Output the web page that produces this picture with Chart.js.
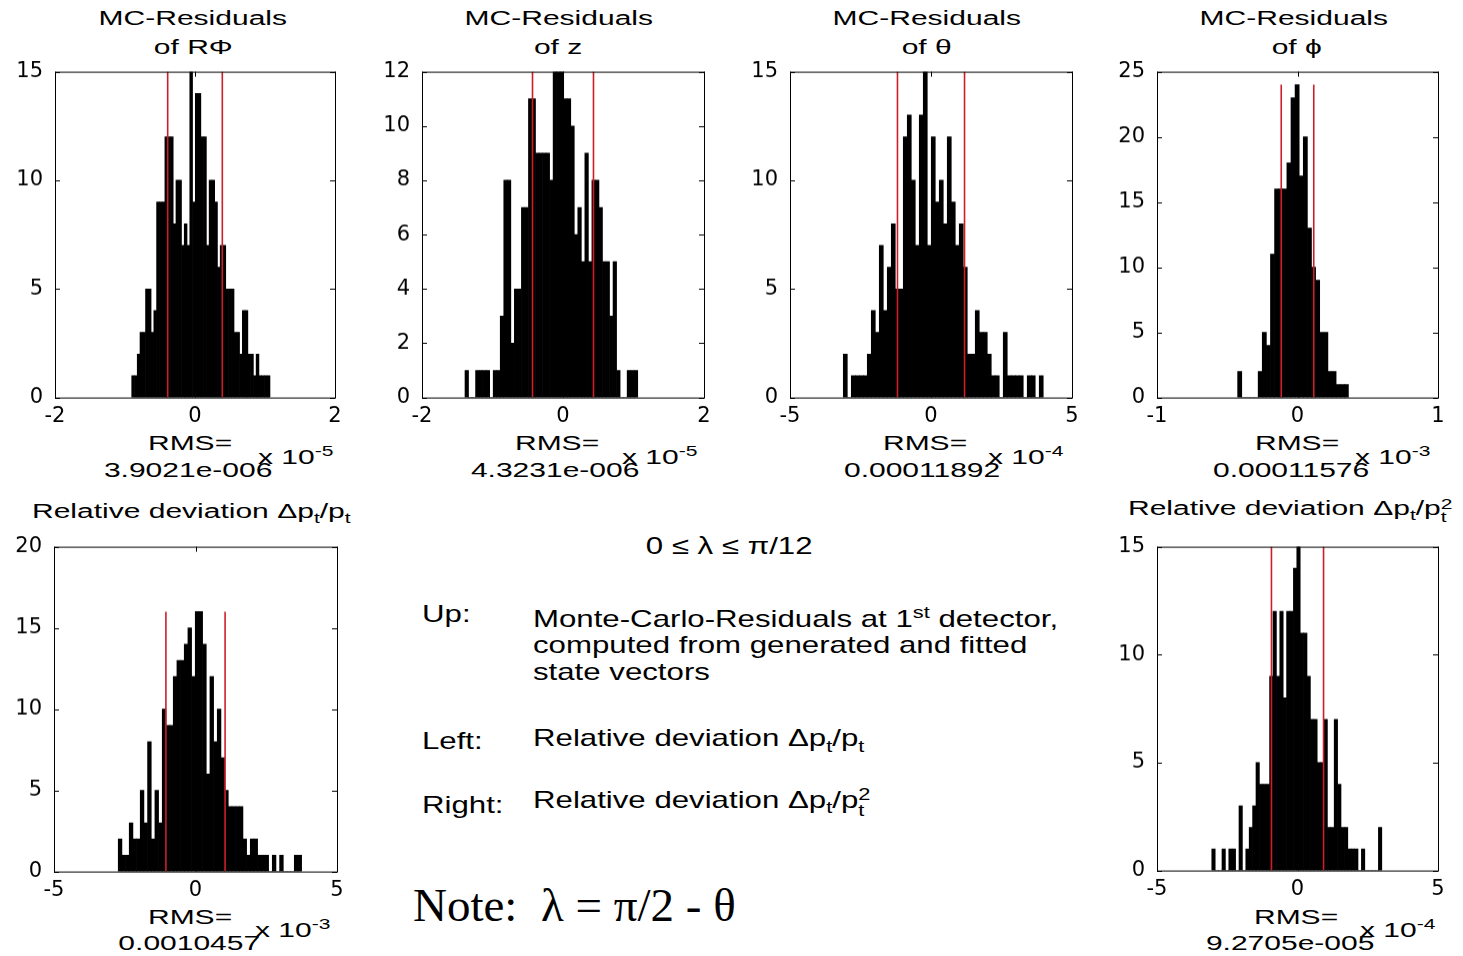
<!DOCTYPE html>
<html>
<head>
<meta charset="utf-8">
<script src="https://cdn.jsdelivr.net/npm/chart.js@4.4.0/dist/chart.umd.min.js"></script>
<style>
  body { margin:0; background:#fff; width:1463px; height:956px; overflow:hidden; position:relative;
         font-family:"Liberation Sans", Arial, sans-serif; color:#000; }
  canvas { position:absolute; }
  .t { position:absolute; white-space:nowrap; line-height:1; }
  .fig { font-size:20px; }
  .slide { font-size:24px; }
  .note { font-family:"Liberation Serif", "Times New Roman", serif; font-size:47px; }
  sub, sup { font-size:0.7em; line-height:0; }
  .ss { display:inline-block; font-size:0.7em; line-height:0.95em; vertical-align:-0.5em; }
</style>
</head>
<body>

<!-- figure titles -->
<div class="t fig" data-x="193" data-y="18" data-s="1.5">MC-Residuals</div>
<div class="t fig" data-x="193" data-y="47" data-s="1.5">of RΦ</div>
<div class="t fig" data-x="559" data-y="18" data-s="1.5">MC-Residuals</div>
<div class="t fig" data-x="558" data-y="47" data-s="1.5">of z</div>
<div class="t fig" data-x="927" data-y="18" data-s="1.5">MC-Residuals</div>
<div class="t fig" data-x="926" data-y="47" data-s="1.5">of θ</div>
<div class="t fig" data-x="1294" data-y="18" data-s="1.5">MC-Residuals</div>
<div class="t fig" data-x="1296" data-y="47" data-s="1.5">of ϕ</div>
<div class="t fig" data-x="32" data-y="511" data-s="1.5" data-a="l">Relative deviation Δp<sub>t</sub>/p<sub>t</sub></div>
<div class="t fig" data-x="1128" data-y="511" data-s="1.5" data-a="l">Relative deviation Δp<sub>t</sub>/p<span class="ss">2<br>t</span></div>

<!-- RMS labels -->
<div class="t fig" data-x="190" data-y="443" data-s="1.5">RMS=</div>
<div class="t fig" data-x="188" data-y="470" data-s="1.5">3.9021e-006</div>
<div class="t fig" data-x="557" data-y="443" data-s="1.5">RMS=</div>
<div class="t fig" data-x="555" data-y="470" data-s="1.5">4.3231e-006</div>
<div class="t fig" data-x="925" data-y="443" data-s="1.5">RMS=</div>
<div class="t fig" data-x="922" data-y="470" data-s="1.5">0.00011892</div>
<div class="t fig" data-x="1297" data-y="443" data-s="1.5">RMS=</div>
<div class="t fig" data-x="1291" data-y="470" data-s="1.5">0.00011576</div>
<div class="t fig" data-x="190" data-y="917" data-s="1.5">RMS=</div>
<div class="t fig" data-x="189" data-y="943" data-s="1.5">0.0010457</div>
<div class="t fig" data-x="1296" data-y="917" data-s="1.5">RMS=</div>
<div class="t fig" data-x="1290" data-y="943" data-s="1.5">9.2705e-005</div>

<!-- axis exponents -->
<div class="t fig" data-x="258" data-y="457" data-s="1.5" data-a="l">x 10<sup>-5</sup></div>
<div class="t fig" data-x="622" data-y="457" data-s="1.5" data-a="l">x 10<sup>-5</sup></div>
<div class="t fig" data-x="988" data-y="457" data-s="1.5" data-a="l">x 10<sup>-4</sup></div>
<div class="t fig" data-x="1355" data-y="457" data-s="1.5" data-a="l">x 10<sup>-3</sup></div>
<div class="t fig" data-x="255" data-y="930" data-s="1.5" data-a="l">x 10<sup>-3</sup></div>
<div class="t fig" data-x="1360" data-y="930" data-s="1.5" data-a="l">x 10<sup>-4</sup></div>

<!-- slide text -->
<div class="t slide" data-x="729" data-y="546" data-s="1.3">0 ≤ λ ≤ π/12</div>
<div class="t slide" data-x="422" data-y="614" data-s="1.3" data-a="l">Up:</div>
<div class="t slide" data-x="533" data-y="619" data-s="1.3" data-a="l">Monte-Carlo-Residuals at 1<sup>st</sup> detector,</div>
<div class="t slide" data-x="533" data-y="645" data-s="1.3" data-a="l">computed from generated and fitted</div>
<div class="t slide" data-x="533" data-y="672" data-s="1.3" data-a="l">state vectors</div>
<div class="t slide" data-x="422" data-y="741" data-s="1.3" data-a="l">Left:</div>
<div class="t slide" data-x="533" data-y="738" data-s="1.3" data-a="l">Relative deviation Δp<sub>t</sub>/p<sub>t</sub></div>
<div class="t slide" data-x="422" data-y="805" data-s="1.3" data-a="l">Right:</div>
<div class="t slide" data-x="533" data-y="803" data-s="1.3" data-a="l">Relative deviation Δp<sub>t</sub>/p<span class="ss">2<br>t</span></div>
<div class="t note" data-x="413" data-y="905" data-a="l">Note:&nbsp; λ = π/2 - θ</div>

<script>
// histogram counts (bins of equal width)
const rphiStart = -0.904, rphiWidth = 0.0395;
const rphiCounts = [1,1,2,3,3,5,5,3,4,9, 9,9,12,12,12,8,10,10,7,8, 7,15,9,14,14,12,12,7,10,10,
                    9,6,7,7,5,5,5,3,3,2, 4,4,2,2,1,2,1,1,1,1];
const zStart = -1.39, zWidth = 0.05;
const zCounts = [1,0,0,1,1,1,1,0,1,1, 3,8,8,2,4,4,7,7,11,11, 9,9,9,9,8,12,12,12,11,11,
                 10,6,7,5,9,5,8,8,7,5, 5,3,5,1,0,0,1,1,1];
const thetaStart = -3.11, thetaWidth = 0.1418;
const thetaCounts = [2,0,1,1,1,1,2,4,3,7, 4,6,8,5,5,12,13,10,7,13, 15,7,12,9,10,8,12,9,7,8,
                     6,2,2,4,3,3,2,1,1,0, 3,1,1,1,1,0,1,1,0,1];
const phiStart = -0.426, phiWidth = 0.0292;
const phiCounts = [2,0,0,0,0,2,5,4,11,16, 16,16,18,23,24,17,20,13,10,9, 5,5,2,2,1,1,1];
const ptStart = -2.73, ptWidth = 0.1296;
const ptCounts = [2,1,1,3,2,2,5,3,8,2, 5,3,10,9,9,12,13,13,14,15, 12,16,16,14,6,12,8,10,7,5,
                  4,4,4,4,2,1,2,2,1,1, 1,0,1,0,1,0,0,0,1,1];
const pt2Start = -3.05, pt2Width = 0.121;
const pt2Counts = [1,0,0,1,0,1,1,0,3,0, 1,2,3,5,4,4,4,9,12,9, 12,8,12,12,14,15,11,11,9,7,
                   7,5,5,7,2,2,7,4,2,2, 1,1,1,0,1,0,0,0,0,2];

// RMS values in axis units (x 10^-5, 10^-5, 10^-4, 10^-3, 10^-3, 10^-4)
const rmsValues = [0.39021, 0.43231, 1.1892, 0.11576, 1.0457, 0.92705];

// axis ranges: [xmin, xmax, xstep, ymax, ystep]
const axisRanges = [
  [-2, 2, 2, 15, 5],
  [-2, 2, 2, 12, 2],
  [-5, 5, 5, 15, 5],
  [-1, 1, 1, 25, 5],
  [-5, 5, 5, 20, 5],
  [-5, 5, 5, 15, 5]
];

// plot area rectangles on the page
const boxes = [
  {l: 55, t: 72, r: 335, b: 397},
  {l: 422, t: 72, r: 704, b: 397},
  {l: 790, t: 72, r: 1072, b: 397},
  {l: 1157, t: 72, r: 1438, b: 397},
  {l: 54, t: 547, r: 337, b: 871},
  {l: 1157, t: 547, r: 1438, b: 870}
];

const hists = [
  [rphiStart, rphiWidth, rphiCounts],
  [zStart, zWidth, zCounts],
  [thetaStart, thetaWidth, thetaCounts],
  [phiStart, phiWidth, phiCounts],
  [ptStart, ptWidth, ptCounts],
  [pt2Start, pt2Width, pt2Counts]
];

// place text blocks
document.querySelectorAll('.t').forEach(el => {
  const x = +el.dataset.x, y = +el.dataset.y, s = +(el.dataset.s || 1);
  const w = el.offsetWidth, h = el.offsetHeight;
  el.style.top = (y - h / 2) + 'px';
  if ((el.dataset.a || 'c') === 'c') {
    el.style.left = (x - w / 2) + 'px';
    el.style.transformOrigin = 'center';
  } else {
    el.style.left = x + 'px';
    el.style.transformOrigin = 'left';
  }
  el.style.transform = 'scaleX(' + s + ')';
});

// MATLAB-like box with inward ticks
const boxPlugin = {
  id: 'box',
  afterDraw(chart) {
    const {ctx, chartArea: a, scales} = chart;
    ctx.save();
    ctx.strokeStyle = '#000';
    ctx.lineWidth = 1;
    ctx.strokeRect(a.left + 0.5, a.top + 0.5, a.right - a.left, a.bottom - a.top);
    ctx.beginPath();
    scales.x.ticks.forEach(t => {
      const px = Math.round(scales.x.getPixelForValue(t.value)) + 0.5;
      ctx.moveTo(px, a.bottom); ctx.lineTo(px, a.bottom - 5);
      ctx.moveTo(px, a.top); ctx.lineTo(px, a.top + 5);
    });
    scales.y.ticks.forEach(t => {
      const py = Math.round(scales.y.getPixelForValue(t.value)) + 0.5;
      ctx.moveTo(a.left, py); ctx.lineTo(a.left + 5, py);
      ctx.moveTo(a.right, py); ctx.lineTo(a.right - 5, py);
    });
    ctx.stroke();
    ctx.restore();
  }
};

const padL = 50, padT = 16, padR = 24, padB = 34;
const tickFont = {family: 'DejaVu Sans', size: 21};

hists.forEach(([start, width, counts], k) => {
  const box = boxes[k];
  const [xmin, xmax, xstep, ymax, ystep] = axisRanges[k];
  const rms = rmsValues[k];
  const canvas = document.createElement('canvas');
  canvas.width = box.r - box.l + padL + padR;
  canvas.height = box.b - box.t + padT + padB;
  canvas.style.left = (box.l - padL) + 'px';
  canvas.style.top = (box.t - padT) + 'px';
  document.body.appendChild(canvas);

  const bars = counts.map((c, i) => ({x: start + width * (i + 0.5), y: c}));
  const peak = Math.max(...counts);
  const redLine = (v) => ({
    type: 'line',
    data: [{x: v, y: 0}, {x: v, y: peak}],
    borderColor: '#cc1f28',
    borderWidth: 1.6,
    pointRadius: 0,
    order: 1
  });

  const chart = new Chart(canvas, {
    type: 'bar',
    data: {
      datasets: [
        {data: bars, backgroundColor: '#000', borderWidth: 0,
         barPercentage: 1, categoryPercentage: 1, order: 2},
        redLine(-rms),
        redLine(rms)
      ]
    },
    options: {
      responsive: false,
      maintainAspectRatio: false,
      animation: false,
      layout: {padding: {top: 4, right: padR, left: 0, bottom: 0}},
      plugins: {legend: {display: false}, tooltip: {enabled: false}},
      scales: {
        x: {
          type: 'linear', min: xmin, max: xmax, offset: false,
          grid: {display: false, drawTicks: false}, border: {display: false},
          ticks: {stepSize: xstep, color: '#000', font: tickFont, padding: 6,
                  maxRotation: 0, autoSkip: false},
          afterFit(s) { s.height = padB; }
        },
        y: {
          min: 0, max: ymax,
          grid: {display: false, drawTicks: false}, border: {display: false},
          ticks: {stepSize: ystep, color: '#000', font: tickFont, padding: 12},
          afterFit(s) { s.width = padL; }
        }
      }
    },
    plugins: [boxPlugin]
  });

  // make the plot area land exactly on the reference box
  let a = chart.chartArea;
  const dw = (box.r - box.l) - (a.right - a.left);
  const dh = (box.b - box.t) - (a.bottom - a.top);
  if (dw || dh) chart.resize(canvas.width + dw, canvas.height + dh);
  a = chart.chartArea;
  canvas.style.left = (box.l - a.left) + 'px';
  canvas.style.top = (box.t - a.top) + 'px';
});
</script>
</body>
</html>
